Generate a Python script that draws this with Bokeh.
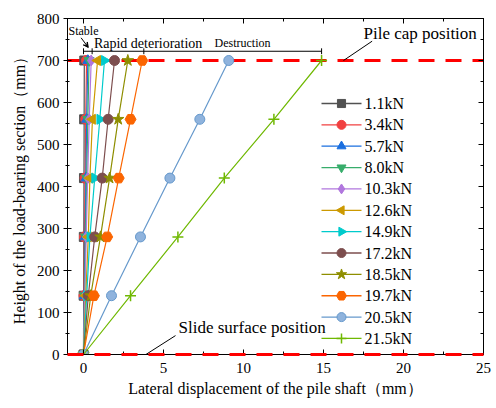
import numpy as np
from bokeh.plotting import figure
from bokeh.models import (Range1d, LinearAxis, Label, Arrow, VeeHead, SingleIntervalTicker)
from bokeh.embed import file_html
from bokeh.resources import INLINE
from bokeh.core.properties import value

# ---------------- data ----------------
heights = [0, 140, 280, 420, 560, 700]
loads = ["1.1kN", "3.4kN", "5.7kN", "8.0kN", "10.3kN", "12.6kN",
         "14.9kN", "17.2kN", "18.5kN", "19.7kN", "20.5kN", "21.5kN"]
d_1_1 = [0, 0.01, 0.02, 0.03, 0.04, 0.05]
d_3_4 = [0, 0.03, 0.06, 0.10, 0.14, 0.19]
d_5_7 = [0, 0.05, 0.10, 0.15, 0.20, 0.27]
d_8_0 = [0, 0.06, 0.13, 0.20, 0.27, 0.35]
d_10_3 = [0, 0.08, 0.17, 0.26, 0.36, 0.48]
d_12_6 = [0, 0.14, 0.30, 0.40, 0.56, 0.88]
d_14_9 = [0, 0.20, 0.40, 0.70, 1.02, 1.31]
d_17_2 = [0, 0.30, 0.70, 1.17, 1.54, 1.94]
d_18_5 = [0, 0.45, 1.06, 1.63, 2.17, 2.77]
d_19_7 = [0, 0.65, 1.48, 2.20, 2.94, 3.67]
d_20_5 = [0, 1.75, 3.56, 5.40, 7.27, 9.08]
d_21_5 = [0, 2.94, 5.90, 8.80, 11.90, 14.88]
series = [d_1_1, d_3_4, d_5_7, d_8_0, d_10_3, d_12_6,
          d_14_9, d_17_2, d_18_5, d_19_7, d_20_5, d_21_5]

pile_cap_height = 700
slide_surface_height = 0
stage_bounds = [0, 0.54, 3.77, 14.88]   # stable | rapid deterioration | destruction
stage_level = 722

# ---------------- styles ----------------
colors = ["#515151", "#F14040", "#1A6FDF", "#37AD6B", "#B177DE", "#CC9900",
          "#00CBCC", "#7D4E4E", "#8E8E00", "#FB6501", "#6699CC", "#6FB802"]
markers = ["square", "circle", "triangle", "inverted_triangle", "diamond", "triangle",
           "triangle", "circle", "star", "hex", "circle", "cross"]
angles = [0, 0, 0, 0, 0, np.pi / 2, -np.pi / 2, 0, 0, 0, 0, 0]
sizes = [9, 10, 10, 10, 11, 10, 10, 10, 12, 11, 10, 11]
fills = list(colors)
fills[10] = "#8FB3DD"

FONT = "Liberation Serif"
X0, X1, Y0, Y1 = -1, 25, 0, 800
L, R, T, B = 67, 483, 18, 354          # frame in screen pixels
W, H = 496, 408


def sx_to_x(px):
    return X0 + (px - L) * (X1 - X0) / (R - L)


def sy_to_y(py):
    return Y0 + (B - py) * (Y1 - Y0) / (B - T)


p = figure(width=W, height=H, x_range=Range1d(X0, X1), y_range=Range1d(Y0, Y1),
           output_backend="svg", toolbar_location=None,
           min_border_left=L, min_border_right=W - R, min_border_top=T, min_border_bottom=H - B)
p.grid.visible = False
p.outline_line_color = "black"
p.outline_line_width = 1
p.background_fill_color = "white"
p.border_fill_color = "white"

# axes
p.xaxis.ticker = SingleIntervalTicker(interval=5, num_minor_ticks=2)
p.yaxis.ticker = SingleIntervalTicker(interval=100, num_minor_ticks=2)

for ax in (p.xaxis[0], p.yaxis[0]):
    ax.axis_line_color = "black"
    ax.major_tick_line_color = "black"
    ax.minor_tick_line_color = "black"
    ax.major_label_text_font = FONT
    ax.major_label_text_font_size = "15px"
    ax.major_label_text_color = "black"
    ax.axis_label_text_font = FONT
    ax.axis_label_text_font_size = "16px"
    ax.axis_label_text_font_style = "normal"
    ax.axis_label_text_color = "black"

p.xaxis.axis_label = "Lateral displacement of the pile shaft（mm）"
p.yaxis.axis_label = "Height of the load-bearing section（mm）"
p.xaxis.major_tick_in = 5
p.xaxis.major_tick_out = 0
p.xaxis.minor_tick_in = 3
p.xaxis.minor_tick_out = 0
p.xaxis.major_label_standoff = 8
p.xaxis.axis_label_standoff = 4
p.yaxis.major_tick_in = 4
p.yaxis.major_tick_out = 4
p.yaxis.minor_tick_in = 2
p.yaxis.minor_tick_out = 2
p.yaxis.major_label_standoff = 4
p.yaxis.axis_label_standoff = 6

top = LinearAxis(ticker=SingleIntervalTicker(interval=5, num_minor_ticks=2),
                 major_label_text_color=None, major_label_text_alpha=0,
                 major_label_text_font_size="1px", major_tick_in=5, major_tick_out=0,
                 minor_tick_in=3, minor_tick_out=0, major_label_standoff=0)
right = LinearAxis(ticker=SingleIntervalTicker(interval=100, num_minor_ticks=2),
                   major_label_text_color=None, major_label_text_alpha=0,
                   major_label_text_font_size="1px", major_tick_in=5, major_tick_out=0,
                   minor_tick_in=3, minor_tick_out=0, major_label_standoff=0)
p.add_layout(top, "above")
p.add_layout(right, "right")

# reference lines (pile cap / slide surface)
p.line([X0, X1], [pile_cap_height] * 2, line_color="#FF0000", line_width=3, line_dash="16 11")
p.line([X0, X1], [slide_surface_height] * 2, line_color="#FF0000", line_width=3,
       line_dash="16 11", level="overlay")

# series
for i, d in enumerate(series):
    p.line(d, heights, line_color=colors[i], line_width=1.2)
    p.scatter(d, heights, marker=markers[i], size=sizes[i], angle=angles[i],
              fill_color=fills[i], line_color=colors[i], line_width=1 if i != 11 else 1.5)

# legend (drawn as annotation so rotated triangles show correctly)
row0, row_step = 103, 21.36
g0, g1, gtxt = 321, 361, 364
for i, lab in enumerate(loads):
    ly = sy_to_y(row0 + i * row_step)
    p.line([sx_to_x(g0), sx_to_x(g1)], [ly, ly], line_color=colors[i], line_width=1.3)
    p.scatter([sx_to_x((g0 + g1) / 2)], [ly], marker=markers[i], size=sizes[i] * 0.9,
              angle=angles[i], fill_color=fills[i], line_color=colors[i],
              line_width=1 if i != 11 else 1.5)
    p.add_layout(Label(x=sx_to_x(gtxt), y=ly, text=lab, text_font=FONT,
                       text_font_size="16px", text_baseline="middle", text_color="black"))

# stage bracket
p.segment(x0=[stage_bounds[0]], y0=[stage_level], x1=[stage_bounds[-1]], y1=[stage_level],
          line_color="black", line_width=1)
p.segment(x0=stage_bounds, y0=[stage_level - 7] * 4, x1=stage_bounds, y1=[stage_level + 7] * 4,
          line_color="black", line_width=1)

p.add_layout(Label(x=0, y=771, text="Stable", text_font=FONT, text_font_size="12px",
                   text_align="center", text_baseline="middle", text_color="black"))
p.add_layout(Label(x=0.65, y=741, text="Rapid deterioration", text_font=FONT,
                   text_font_size="14px", text_baseline="middle", text_color="black"))
p.add_layout(Label(x=8.19, y=741, text="Destruction", text_font=FONT,
                   text_font_size="12px", text_baseline="middle", text_color="black"))
p.add_layout(Arrow(x_start=-0.15, y_start=754, x_end=0.3, y_end=731,
                   line_width=1, line_color="black",
                   end=VeeHead(size=5, fill_color="black", line_color="black")))

# position labels with leader lines
p.line([16.25, 18.04], [pile_cap_height, 746], line_color="black", line_width=1)
p.add_layout(Label(x=17.5, y=765, text="Pile cap position", text_font=FONT,
                   text_font_size="17px", text_baseline="middle", text_color="black"))
p.line([3.9, 5.75], [slide_surface_height, 45], line_color="black", line_width=1)
p.add_layout(Label(x=5.94, y=65, text="Slide surface position", text_font=FONT,
                   text_font_size="17px", text_baseline="middle", text_color="black"))

open("out.html", "w").write(file_html(p, INLINE))
